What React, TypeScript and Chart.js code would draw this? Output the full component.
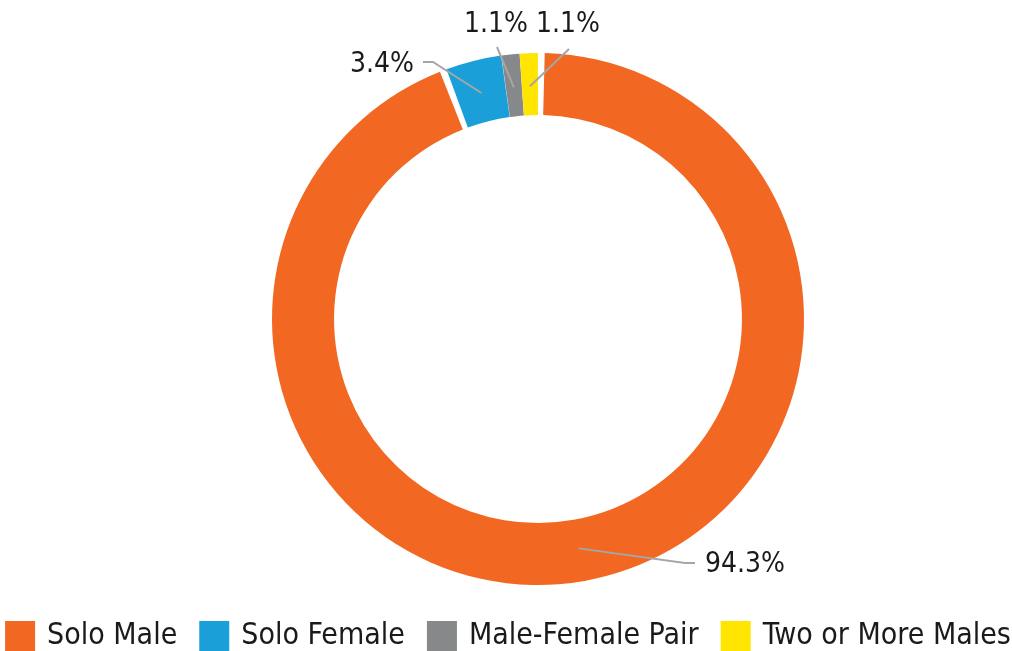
import React, { useEffect, useRef } from "react";
import { Chart, registerables } from "chart.js";

Chart.register(...registerables);

const categories = ["Solo Male", "Solo Female", "Male-Female Pair", "Two or More Males"];
const shares = [94.3, 3.4, 1.1, 1.1];
const valueLabels = ["94.3%", "3.4%", "1.1%", "1.1%"];
const colors = ["#F26722", "#1A9FD9", "#87888A", "#FFE500"];

const FONT = "'DejaVu Sans Condensed', 'Liberation Sans Narrow', 'Noto Sans', sans-serif";

// leader line layout (offsets relative to the donut centre): elbow, end, text anchor, alignment
const labelLayout = [
  { elbow: [147, 244], end: [157, 244], text: [167, 246], align: "left" },
  { elbow: [-105, -257], end: [-115, -257], text: [-124, -254], align: "right" },
  { elbow: [-41, -272], end: [-41, -272], text: [-42, -294], align: "center" },
  { elbow: [31, -270], end: [31, -270], text: [30, -294], align: "center" },
];

const leaderPlugin = {
  id: "leaders",
  afterDatasetsDraw(chart: any) {
    const meta = chart.getDatasetMeta(0);
    const ctx = chart.ctx;
    ctx.save();
    meta.data.forEach((arc: any, i: number) => {
      const p = arc.getProps(["x", "y", "startAngle", "endAngle", "innerRadius", "outerRadius"], true);
      const mid = (p.startAngle + p.endAngle) / 2;
      const r = (p.innerRadius + p.outerRadius) / 2;
      const ax = p.x + Math.cos(mid) * r;
      const ay = p.y + Math.sin(mid) * r;
      const L = labelLayout[i];
      ctx.strokeStyle = "#A6A6A6";
      ctx.lineWidth = 2;
      ctx.beginPath();
      ctx.moveTo(ax, ay);
      ctx.lineTo(p.x + L.elbow[0], p.y + L.elbow[1]);
      ctx.lineTo(p.x + L.end[0], p.y + L.end[1]);
      ctx.stroke();
      ctx.fillStyle = "#1a1a1a";
      ctx.font = `28px ${FONT}`;
      ctx.textAlign = L.align as CanvasTextAlign;
      ctx.textBaseline = "middle";
      ctx.fillText(valueLabels[i], p.x + L.text[0], p.y + L.text[1]);
    });
    ctx.restore();
  },
};

const legendPlugin = {
  id: "bottomLegend",
  afterDraw(chart: any) {
    const ctx = chart.ctx;
    const labels: string[] = chart.data.labels;
    const bg: string[] = chart.data.datasets[0].backgroundColor;
    const box = 30;
    const gap = 12;
    const itemGap = 22;
    ctx.save();
    ctx.font = `30px ${FONT}`;
    const widths = labels.map((t) => box + gap + ctx.measureText(t).width);
    const total = widths.reduce((a, b) => a + b, 0) + itemGap * (labels.length - 1);
    let x = 508 - total / 2;
    const top = 621;
    labels.forEach((t, i) => {
      ctx.fillStyle = bg[i];
      ctx.fillRect(x, top, box, box);
      ctx.fillStyle = "#1a1a1a";
      ctx.textAlign = "left";
      ctx.textBaseline = "middle";
      ctx.fillText(t, x + box + gap, top + box / 2);
      x += widths[i] + itemGap;
    });
    ctx.restore();
  },
};

export default function App() {
  const ref = useRef<HTMLCanvasElement | null>(null);
  useEffect(() => {
    if (!ref.current) return;
    const chart = new Chart(ref.current, {
      type: "doughnut",
      data: {
        labels: categories,
        datasets: [
          {
            data: shares,
            backgroundColor: colors,
            borderWidth: 0,
            spacing: 4,
            cutout: "76.5%",
          } as any,
        ],
      },
      options: {
        responsive: false,
        animation: false,
        layout: { padding: { top: 53, left: 272, right: 208, bottom: 66 } },
        plugins: {
          tooltip: { enabled: false },
          legend: { display: false },
        },
      },
      plugins: [leaderPlugin, legendPlugin],
    });
    return () => chart.destroy();
  }, []);
  return (
    <div style={{ position: "fixed", left: 0, top: 0, width: 1012, height: 651, background: "#fff" }}>
      <canvas ref={ref} width={1012} height={651} style={{ display: "block" }} />
    </div>
  );
}
